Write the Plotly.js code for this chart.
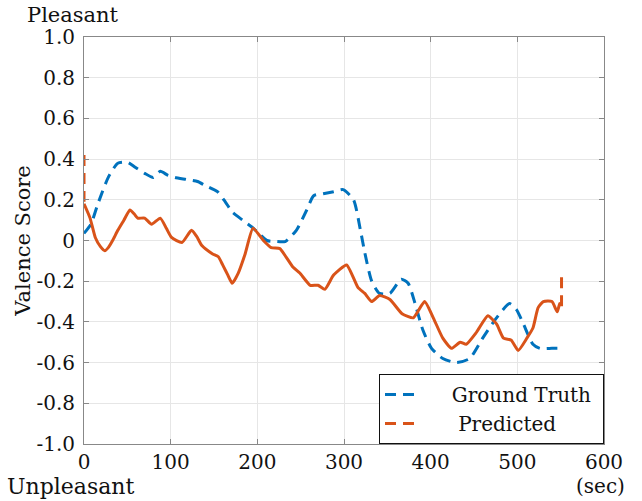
<!DOCTYPE html>
<html>
<head>
<meta charset="utf-8">
<script src="https://cdn.plot.ly/plotly-3.0.1.min.js"></script>
<style>html,body{margin:0;padding:0;background:#fff;}#chart{width:642px;height:501px;}</style>
</head>
<body>
<div id="chart"></div>
<script>
// Ground truth valence (seconds, score)
const gtTime = [0, 8, 16, 28, 39, 50, 59, 70, 80, 88, 97, 105, 118, 131, 140, 154, 163, 171, 183, 194, 203, 211, 222, 232, 245, 257, 265, 276, 288, 299, 311, 319, 324, 332, 341, 353, 366, 374, 382, 391, 401, 414, 430, 445, 460, 476, 491, 499, 507, 518, 526, 540, 551];
const gtValue = [0.035, 0.08, 0.18, 0.31, 0.38, 0.385, 0.36, 0.33, 0.31, 0.34, 0.32, 0.31, 0.30, 0.29, 0.27, 0.24, 0.19, 0.14, 0.10, 0.065, 0.03, 0.0, -0.005, -0.005, 0.05, 0.15, 0.22, 0.23, 0.24, 0.25, 0.20, 0.05, -0.06, -0.20, -0.26, -0.26, -0.19, -0.21, -0.31, -0.44, -0.53, -0.58, -0.60, -0.58, -0.48, -0.38, -0.31, -0.34, -0.41, -0.51, -0.53, -0.53, -0.53];

// Predicted valence
const predTime = [0, 7, 13, 19, 24, 28, 33, 39, 46, 53, 58, 62, 70, 78, 88, 95, 101, 113, 124, 130, 136, 148, 155, 160, 166, 171, 178, 186, 195, 207, 216, 226, 233, 241, 249, 261, 270, 278, 288, 303, 316, 324, 332, 341, 353, 367, 380, 393, 403, 414, 424, 434, 441, 453, 466, 476, 484, 493, 501, 511, 518, 524, 530, 540, 546, 549, 551];
const predValue = [0.18, 0.11, 0.015, -0.03, -0.05, -0.035, 0.0, 0.05, 0.10, 0.15, 0.13, 0.11, 0.11, 0.08, 0.11, 0.06, 0.015, -0.01, 0.05, 0.02, -0.025, -0.065, -0.08, -0.12, -0.17, -0.21, -0.16, -0.065, 0.06, 0.0, -0.035, -0.04, -0.08, -0.13, -0.16, -0.22, -0.22, -0.24, -0.17, -0.12, -0.23, -0.26, -0.30, -0.27, -0.29, -0.36, -0.38, -0.30, -0.38, -0.48, -0.53, -0.50, -0.51, -0.45, -0.37, -0.41, -0.48, -0.49, -0.54, -0.48, -0.43, -0.33, -0.30, -0.30, -0.35, -0.31, -0.31];

// Predicted jumps at the start and end (drawn dashed)
const predEdgeTime = [0, 0, null, 551, 551];
const predEdgeValue = [0.42, 0.19, null, -0.18, -0.35];

const xTicks = [0, 100, 200, 300, 400, 500, 600];
const yTicks = [-1, -0.8, -0.6, -0.4, -0.2, 0, 0.2, 0.4, 0.6, 0.8, 1];
const yTickText = ['-1.0', '-0.8', '-0.6', '-0.4', '-0.2', '0', '0.2', '0.4', '0.6', '0.8', '1.0'];

const BLUE = '#0072BD', ORANGE = '#D95319';
const FONT = 'DejaVu Serif, serif';
const NB = '\u00a0';

const traces = [
  {x: gtTime, y: gtValue, name: NB.repeat(5) + 'Ground Truth' + NB, type: 'scatter', mode: 'lines',
   line: {color: BLUE, width: 3, dash: '11px,7px', shape: 'spline', smoothing: 0.6}},
  {x: predTime, y: predValue, name: 'Predicted', type: 'scatter', mode: 'lines', showlegend: false,
   line: {color: ORANGE, width: 3, shape: 'spline', smoothing: 0.5}},
  {x: predEdgeTime, y: predEdgeValue, name: NB.repeat(6) + 'Predicted', type: 'scatter', mode: 'lines',
   line: {color: ORANGE, width: 3, dash: '11px,7px'}}
];

const layout = {
  width: 642, height: 501,
  margin: {l: 84, r: 38, t: 37, b: 57},
  paper_bgcolor: '#fff', plot_bgcolor: '#fff',
  font: {family: FONT, size: 20, color: '#111'},
  showlegend: true,
  legend: {x: 1, xanchor: 'right', y: 0, yanchor: 'bottom', bgcolor: '#fff',
           bordercolor: '#111', borderwidth: 1, tracegroupgap: 0,
           font: {family: FONT, size: 20, color: '#111'}},
  xaxis: {range: [0, 600], tickvals: xTicks, ticks: 'inside', ticklen: 5, tickcolor: '#888',
          showline: true, linecolor: '#888', linewidth: 1, mirror: 'ticks',
          showgrid: true, gridcolor: '#e6e6e6', zeroline: false, ticklabelstandoff: 0,
          tickfont: {family: FONT, size: 20, color: '#111'}},
  yaxis: {range: [-1, 1], tickvals: yTicks, ticktext: yTickText, ticks: 'inside', ticklen: 5, tickcolor: '#888',
          showline: true, linecolor: '#888', linewidth: 1, mirror: 'ticks',
          showgrid: true, gridcolor: '#e6e6e6', zeroline: false, ticklabelstandoff: 4,
          tickfont: {family: FONT, size: 20, color: '#111'},
          title: {text: 'Valence Score', font: {family: FONT, size: 21, color: '#111'}, standoff: 0}},
  annotations: [
    {text: 'Pleasant', xref: 'paper', yref: 'paper', x: -0.113, y: 1.055, xanchor: 'left', yanchor: 'middle',
     showarrow: false, font: {family: FONT, size: 21, color: '#111'}},
    {text: 'Unpleasant', xref: 'paper', yref: 'paper', x: -0.152, y: -0.105, xanchor: 'left', yanchor: 'middle',
     showarrow: false, font: {family: FONT, size: 22, color: '#111'}},
    {text: '(sec)', xref: 'paper', yref: 'paper', x: 1.044, y: -0.103, xanchor: 'right', yanchor: 'middle',
     showarrow: false, font: {family: FONT, size: 20, color: '#111'}}
  ]
};

Plotly.newPlot('chart', traces, layout, {displayModeBar: false, staticPlot: true});
</script>
</body>
</html>
